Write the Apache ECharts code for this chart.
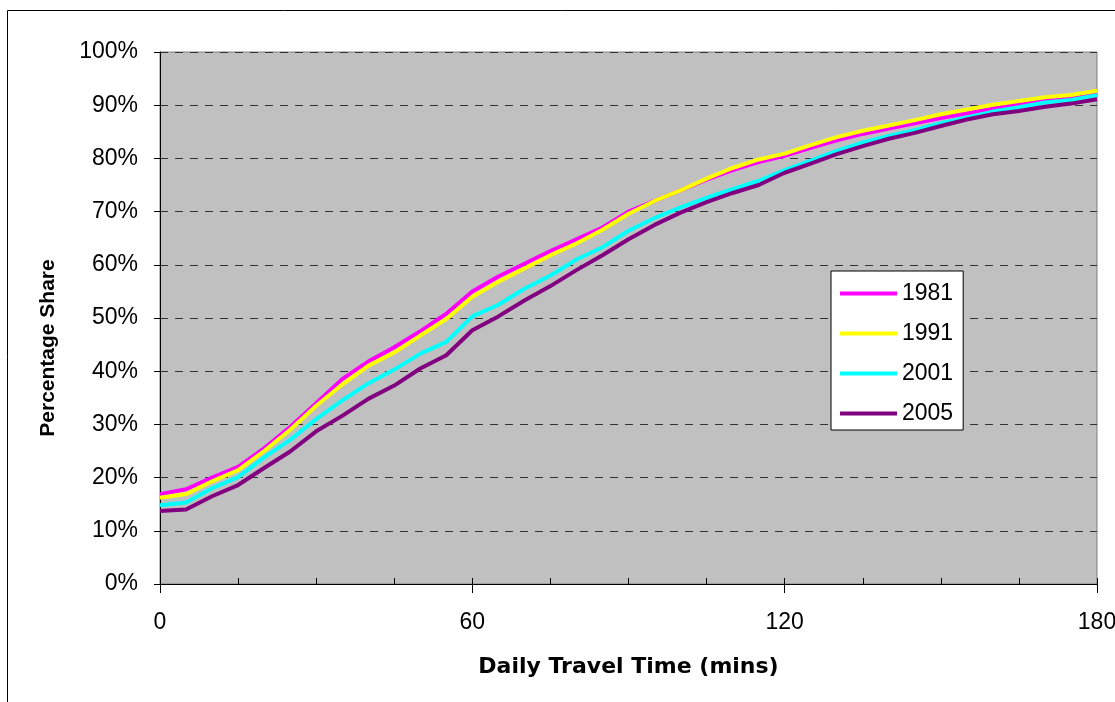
<!DOCTYPE html>
<html>
<head>
<meta charset="utf-8">
<script src="https://cdn.jsdelivr.net/npm/echarts@6/dist/echarts.min.js"></script>
<style>
html,body{margin:0;padding:0;background:#fff;overflow:hidden;}
#chart{width:1115px;height:702px;}
</style>
</head>
<body>
<div id="chart"></div>
<script>
const minutes = [0,5,10,15,20,25,30,35,40,45,50,55,60,65,70,75,80,85,90,95,100,105,110,115,120,125,130,135,140,145,150,155,160,165,170,175,180];
const share1981 = [16.9,17.8,20.0,22.0,25.5,29.5,34.0,38.5,41.8,44.5,47.5,50.8,55.0,57.8,60.2,62.6,64.8,67.0,70.0,72.0,74.0,76.0,77.8,79.3,80.5,82.0,83.4,84.6,85.6,86.6,87.6,88.5,89.4,90.2,91.0,91.6,92.4];
const share1991 = [16.2,16.9,19.3,21.4,25.0,29.0,33.5,37.5,41.0,43.5,46.7,49.8,54.0,56.8,59.3,61.8,64.0,66.6,69.6,72.0,74.0,76.2,78.2,79.8,80.9,82.5,84.0,85.2,86.2,87.2,88.3,89.2,90.1,90.8,91.5,91.9,92.7];
const share2001 = [14.8,15.3,18.0,20.1,23.8,27.1,31.0,34.5,37.7,40.3,43.3,45.5,50.3,52.5,55.5,58.0,61.0,63.3,66.4,68.8,70.8,72.6,74.2,75.8,77.8,79.6,81.4,83.0,84.2,85.3,86.6,87.7,88.8,89.6,90.5,91.0,91.9];
const share2005 = [13.7,14.0,16.5,18.6,21.8,24.9,28.7,31.6,34.8,37.3,40.5,43.0,47.7,50.3,53.3,56.0,59.0,61.8,64.8,67.5,69.8,71.8,73.5,75.0,77.3,79.0,80.8,82.3,83.7,84.8,86.1,87.3,88.3,88.9,89.7,90.3,91.1];
const seriesNames = ['1981','1991','2001','2005'];
const seriesValues = [share1981, share1991, share2001, share2005];
const seriesColors = ['#FF00FF','#FFFF00','#00FFFF','#800080'];
const xTitle = 'Daily Travel Time (mins)';
const yTitle = 'Percentage Share';

const chart = echarts.init(document.getElementById('chart'), null, {renderer:'canvas'});
const FONT = 'Liberation Sans, Arial, sans-serif';

const series = seriesNames.map((name, i) => ({
  name: name,
  type: 'line',
  xAxisIndex: 0,
  symbol: 'none',
  smooth: false,
  data: minutes.map((m, j) => [m, seriesValues[i][j]]),
  lineStyle: {color: seriesColors[i], width: 4},
  itemStyle: {color: seriesColors[i]},
  z: 3
}));

chart.setOption({
  animation: false,
  backgroundColor: '#fff',
  graphic: [{
    type: 'rect',
    shape: {x: 7.5, y: 10.5, width: 1200, height: 800},
    style: {fill: 'none', stroke: '#000', lineWidth: 1},
    silent: true, z: 100
  }],
  grid: {
    left: 160, top: 52, width: 937, height: 532,
    outerBoundsMode: 'none', containLabel: false,
    show: true, backgroundColor: '#C0C0C0', borderColor: '#808080', borderWidth: 1
  },
  legend: {
    orient: 'vertical',
    left: 831, top: 271,
    padding: [11, 10, 5, 9],
    itemWidth: 57, itemHeight: 4,
    itemGap: 17,
    icon: 'rect',
    backgroundColor: '#fff',
    borderColor: '#000', borderWidth: 1,
    textStyle: {fontFamily: FONT, fontSize: 23, color: '#000'},
    data: seriesNames
  },
  xAxis: [{
    type: 'value', min: 0, max: 180, interval: 60,
    position: 'bottom',
    axisLine: {show: true, lineStyle: {color: '#000', width: 1}},
    axisTick: {show: true, inside: false, length: 9, lineStyle: {color: '#000'}},
    axisLabel: {fontFamily: FONT, fontSize: 23, color: '#000', margin: 27},
    splitLine: {show: false},
    name: xTitle, nameLocation: 'middle', nameGap: 72,
    nameTextStyle: {fontFamily: 'DejaVu Sans, sans-serif', fontSize: 22, fontWeight: 'bold', color: '#000'}
  }, {
    type: 'value', min: 0, max: 180, interval: 15,
    position: 'bottom',
    axisLine: {show: false},
    axisTick: {show: true, inside: true, length: 6, lineStyle: {color: '#000'}},
    axisLabel: {show: false},
    splitLine: {show: false}
  }],
  yAxis: {
    type: 'value', min: 0, max: 100, interval: 10,
    axisLine: {show: true, lineStyle: {color: '#000', width: 1}},
    axisTick: {show: true, inside: false, length: 6, lineStyle: {color: '#000'}},
    axisLabel: {fontFamily: FONT, fontSize: 23, color: '#000', margin: 22, formatter: '{value}%'},
    splitLine: {show: true, lineStyle: {color: '#333333', type: [8, 7], width: 1}},
    name: yTitle, nameLocation: 'middle', nameGap: 101, nameRotate: 90,
    nameTextStyle: {fontFamily: FONT, fontSize: 21, fontWeight: 'bold', color: '#000', padding: [0, 60, 0, 0]}
  },
  series: series
});
</script>
</body>
</html>
